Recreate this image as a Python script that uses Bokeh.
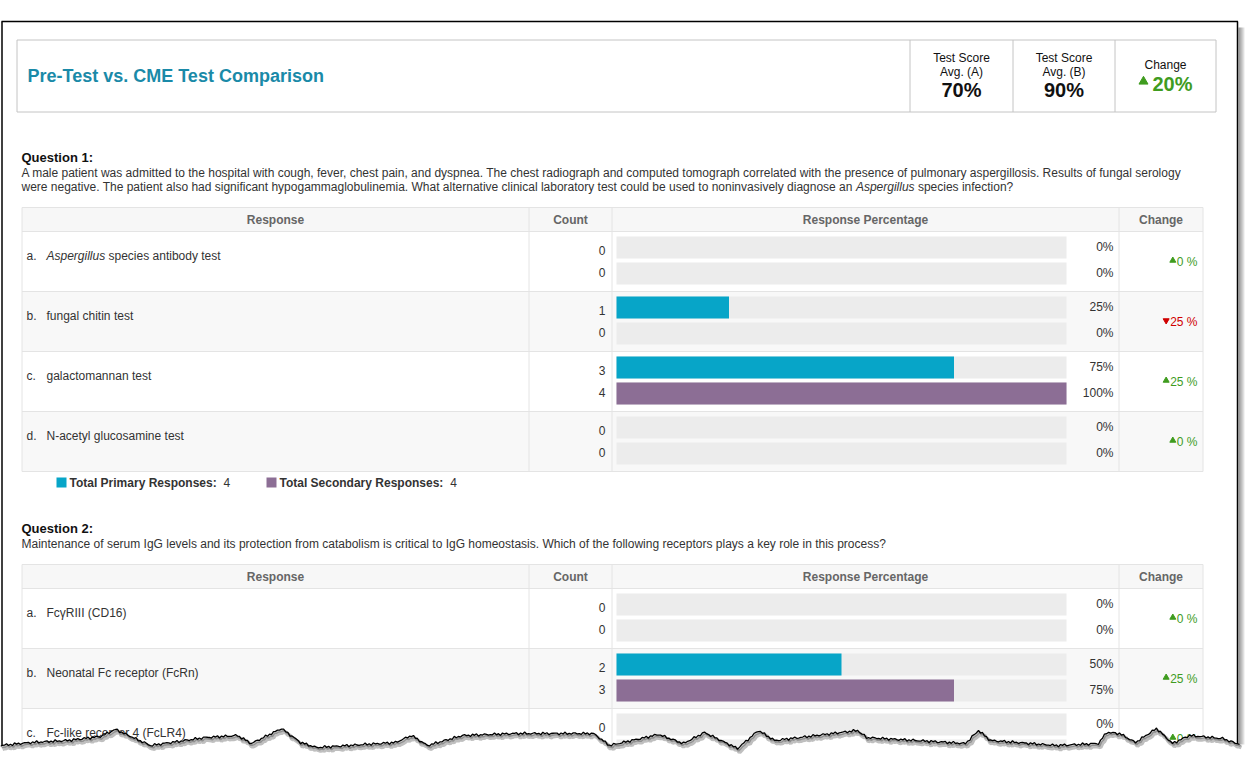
import math
from bokeh.plotting import figure
from bokeh.models import Range1d
from bokeh.embed import file_html
from bokeh.resources import INLINE
from bokeh.core.properties import value

FONT = "Liberation Sans"

# ---------------- data ----------------
report_title = "Pre-Test vs. CME Test Comparison"
avg_labels = [("Test Score", "Avg. (A)"), ("Test Score", "Avg. (B)")]
avg_scores = [70, 90]
score_change = 20

col_headers = ["Response", "Count", "Response Percentage", "Change"]
legend_labels = ["Total Primary Responses:", "Total Secondary Responses:"]

q1_title = "Question 1:"
q1_text = [
    [("A male patient was admitted to the hospital with cough, fever, chest pain, and dyspnea. The chest radiograph and computed tomograph correlated with the presence of pulmonary aspergillosis. Results of fungal serology", False)],
    [("were negative. The patient also had significant hypogammaglobulinemia. What alternative clinical laboratory test could be used to noninvasively diagnose an ", False),
     ("Aspergillus", True), (" species infection?", False)],
]
q1_letters = ["a.", "b.", "c.", "d."]
q1_options = [
    [("Aspergillus", True), (" species antibody test", False)],
    [("fungal chitin test", False)],
    [("galactomannan test", False)],
    [("N-acetyl glucosamine test", False)],
]
q1_primary = [0, 1, 3, 0]
q1_secondary = [0, 0, 4, 0]
q1_total_primary = 4
q1_total_secondary = 4

q2_title = "Question 2:"
q2_text = [
    [("Maintenance of serum IgG levels and its protection from catabolism is critical to IgG homeostasis. Which of the following receptors plays a key role in this process?", False)],
]
q2_letters = ["a.", "b.", "c."]
q2_options = [
    [("FcγRIII (CD16)", False)],
    [("Neonatal Fc receptor (FcRn)", False)],
    [("Fc-like receptor 4 (FcLR4)", False)],
]
q2_primary = [0, 2, 0]
q2_secondary = [0, 3, 0]
q2_total_primary = 4
q2_total_secondary = 4

# ---------------- style ----------------
TEAL = "#1a8aa8"
GREEN = "#3f9c1f"
RED = "#d00000"
PRIM = "#07a5c8"
SEC = "#8c6e95"
TRACK = "#ececec"
GRID = "#e4e4e4"
ALT = "#f8f8f8"
TXT = "#333333"

# Arial / Helvetica advance widths (per 1000 em)
_REG = {' ': 278, '!': 278, '"': 355, '%': 889, '&': 667, "'": 191, '(': 333, ')': 333, ',': 278, '-': 333,
        '.': 278, '/': 278, ':': 278, ';': 278, '?': 556, 'γ': 500}
for ch in "0123456789":
    _REG[ch] = 556
_REG.update(dict(zip("ABCDEFGHIJKLMNOPQRSTUVWXYZ",
                     [667, 667, 722, 722, 667, 611, 778, 722, 278, 500, 667, 556, 833, 722, 778, 667, 778, 722, 667, 611, 722, 667, 944, 667, 667, 611])))
_REG.update(dict(zip("abcdefghijklmnopqrstuvwxyz",
                     [556, 556, 500, 556, 556, 278, 556, 556, 222, 222, 500, 222, 833, 556, 556, 556, 556, 333, 500, 278, 556, 500, 722, 500, 500, 500])))
_BOLD = {' ': 278, ':': 333, 'T': 611, 'P': 667, 'R': 722, 'S': 667, 'a': 556, 'c': 556, 'd': 611, 'e': 556,
         'i': 278, 'l': 278, 'm': 889, 'n': 611, 'o': 611, 'p': 611, 'r': 389, 's': 556, 't': 333, 'y': 556,
         'u': 611, '0': 556, '2': 556, '%': 889}


def tw(s, size, bold=False):
    tab = _BOLD if bold else _REG
    return sum(tab.get(c, 556) for c in s) * size / 1000.0


p = figure(width=1247, height=768, x_range=Range1d(0, 1247), y_range=Range1d(768, 0),
           output_backend="svg", toolbar_location=None, min_border=0,
           x_axis_location=None, y_axis_location=None)
p.grid.visible = False
p.outline_line_color = None
p.background_fill_color = "white"
p.border_fill_color = "white"


def txt(x, y, s, size=12, color=TXT, bold=False, italic=False, align="left"):
    style = "normal"
    if bold and italic:
        style = "bold italic"
    elif bold:
        style = "bold"
    elif italic:
        style = "italic"
    p.text(x=[x], y=[y], text=[s], text_font=value(FONT), text_font_size=f"{size}px",
           text_color=color, text_font_style=style, text_align=align, text_baseline="middle")


def segs(x, y, parts, size=12, color=TXT):
    for s, it in parts:
        body = s.lstrip(" ")
        lead = s[:len(s) - len(body)]
        txt(x + tw(lead, size), y, body, size=size, color=color, italic=it)
        x += tw(s, size)


def hline(x0, x1, y, color=GRID, w=1):
    p.segment(x0=[x0], y0=[y], x1=[x1], y1=[y], line_color=color, line_width=w)


def vline(x, y0, y1, color=GRID, w=1):
    p.segment(x0=[x], y0=[y0], x1=[x], y1=[y1], line_color=color, line_width=w)


# ---------------- header box ----------------
HB = "#c4c4c4"
hx = [16.5, 909.5, 1012.5, 1114.5, 1215.5]
hy0, hy1 = 39.5, 111.5
hline(hx[0], hx[-1], hy0, HB)
hline(hx[0], hx[-1], hy1, HB)
for x in hx:
    vline(x, hy0, hy1, HB)
txt(27, 75, report_title, size=18, color=TEAL, bold=True)
for i, ((l1, l2), sc) in enumerate(zip(avg_labels, avg_scores)):
    cx = (hx[i + 1] + hx[i + 2]) / 2
    txt(cx, 57, l1, size=12, color="#111", align="center")
    txt(cx, 71, l2, size=12, color="#111", align="center")
    txt(cx, 89, f"{sc}%", size=20, color="#111", bold=True, align="center")
cx = (hx[3] + hx[4]) / 2
txt(cx, 64, "Change", size=12, color="#111", align="center")
ch_s = f"{score_change}%"
ch_w = tw(ch_s, 20, bold=True)
ch_x = cx - (ch_w + 14) / 2 + 14
p.scatter(x=[ch_x - 9], y=[81], marker="triangle", size=9, fill_color=GREEN, line_color=GREEN)
txt(ch_x, 83, ch_s, size=20, color=GREEN, bold=True)

# ---------------- question tables ----------------
TX0, C1, C2, C3, TX1 = 21.5, 528.5, 611.5, 1118.5, 1202.5
BAR0, BAR1 = 616, 1066
ROW_H = 60
HEAD_H = 24


def draw_question(top, title, lines, letters, options, prim, sec, tot_p, tot_s, legend):
    txt(21, top, title, size=13, color="#111", bold=True)
    y = top + 15
    for ln in lines:
        segs(21, y, ln)
        y += 14
    t0 = y - 14 + 21
    n = len(options)
    t1 = t0 + HEAD_H + n * ROW_H
    # backgrounds
    p.quad(left=[TX0], right=[TX1], top=[t0], bottom=[t0 + HEAD_H], fill_color="#f7f7f7", line_color=None)
    for i in range(n):
        T = t0 + HEAD_H + i * ROW_H
        if i % 2 == 1:
            p.quad(left=[TX0], right=[TX1], top=[T], bottom=[T + ROW_H], fill_color=ALT, line_color=None)
    # grid
    hline(TX0, TX1, t0)
    hline(TX0, TX1, t0 + HEAD_H)
    for i in range(n):
        hline(TX0, TX1, t0 + HEAD_H + (i + 1) * ROW_H)
    for x in (TX0, C1, C2, C3, TX1):
        vline(x, t0, t1)
    # header text
    for hdr, (a, b) in zip(col_headers, [(TX0, C1), (C1, C2), (C2, C3), (C3, TX1)]):
        txt((a + b) / 2, t0 + 12, hdr, size=12, color="#666", bold=True, align="center")
    # rows
    for i in range(n):
        T = t0 + HEAD_H + i * ROW_H
        txt(26, T + 24, letters[i])
        segs(46, T + 24, options[i])
        pp = 100.0 * prim[i] / tot_p
        sp = 100.0 * sec[i] / tot_s
        # tracks
        p.quad(left=[BAR0, BAR0], right=[BAR1, BAR1], top=[T + 5, T + 31], bottom=[T + 27, T + 53],
               fill_color=TRACK, line_color=None)
        # bars
        if pp > 0:
            p.quad(left=[BAR0], right=[BAR0 + (BAR1 - BAR0) * pp / 100.0], top=[T + 5], bottom=[T + 27],
                   fill_color=PRIM, line_color=None)
        if sp > 0:
            p.quad(left=[BAR0], right=[BAR0 + (BAR1 - BAR0) * sp / 100.0], top=[T + 31], bottom=[T + 53],
                   fill_color=SEC, line_color=None)
        txt(605, T + 19, str(prim[i]), align="right")
        txt(605, T + 41, str(sec[i]), align="right")
        txt(1113, T + 15, f"{pp:.0f}%", align="right")
        txt(1113, T + 41, f"{sp:.0f}%", align="right")
        ch = sp - pp
        col = GREEN if ch >= 0 else RED
        lab = f"{abs(ch):.0f} %"
        txt(1197, T + 30, lab, color=col, align="right")
        tx = 1197 - tw(lab, 12) - 4
        p.scatter(x=[tx], y=[T + 29], marker="triangle" if ch >= 0 else "inverted_triangle",
                  size=6, fill_color=col, line_color=col)
    if legend:
        ly = t1 + 11
        x = 56
        for lab, col, tot in zip(legend_labels, [PRIM, SEC], [tot_p, tot_s]):
            p.quad(left=[x], right=[x + 10], top=[ly - 5], bottom=[ly + 5], fill_color=col, line_color=None)
            txt(x + 13, ly, lab, size=12, color=TXT, bold=True)
            txt(x + 13 + tw(lab, 12, bold=True) + 6, ly, str(tot), size=12, color=TXT)
            x = 266
    return t1


draw_question(157, q1_title, q1_text, q1_letters, q1_options, q1_primary, q1_secondary,
              q1_total_primary, q1_total_secondary, True)
draw_question(528, q2_title, q2_text, q2_letters, q2_options, q2_primary, q2_secondary,
              q2_total_primary, q2_total_secondary, False)

# ---------------- page frame & torn edge (decoration) ----------------
for i in range(6):
    vline(1238.5 + i, 27, 768, color="#000000", w=1)
    p.renderers[-1].glyph.line_alpha = 0.45 - i * 0.07
vline(1.5, 21, 768, color="black", w=1.5)
vline(1237, 21, 768, color="black", w=1.5)
hline(1, 1237.5, 21, color="black", w=1.5)

ctrl = [(0, 745), (30, 742), (67, 740), (100, 736), (115, 729), (150, 745), (205, 737), (237, 735),
        (251, 743), (281, 728), (300, 742), (316, 747), (395, 742), (411, 735), (427, 745), (462, 735),
        (514, 733), (593, 733), (609, 745), (658, 734), (683, 743), (704, 732), (737, 748), (758, 730),
        (774, 740), (857, 730), (866, 737), (965, 743), (978, 730), (990, 740), (1056, 745), (1098, 743),
        (1106, 732), (1119, 733), (1135, 742), (1156, 728), (1172, 743), (1189, 735), (1222, 738), (1239, 744)]
ex, ey = [], []
for k in range(len(ctrl) - 1):
    (xa, ya), (xb, yb) = ctrl[k], ctrl[k + 1]
    steps = max(2, int((xb - xa) / 2))
    for s in range(steps):
        t = s / steps
        xx = xa + (xb - xa) * t
        yy = ya + (yb - ya) * t + 0.9 * math.sin(xx * 1.7) + 0.6 * math.sin(xx * 0.63 + 1.3)
        ex.append(xx)
        ey.append(yy)
ex.append(ctrl[-1][0])
ey.append(ctrl[-1][1])
p.patch(x=ex + [1247, 1247, 0, 0], y=ey + [ey[-1], 768, 768, ey[0]], fill_color="white", line_color=None)
p.line(x=[x + 2 for x in ex], y=[y + 3 for y in ey], line_color="#000000", line_alpha=0.25, line_width=4)
p.line(x=[x + 1 for x in ex], y=[y + 1.5 for y in ey], line_color="#000000", line_alpha=0.25, line_width=2)
p.line(x=ex, y=ey, line_color="black", line_width=1.3)

open("out.html", "w").write(file_html(p, INLINE))
